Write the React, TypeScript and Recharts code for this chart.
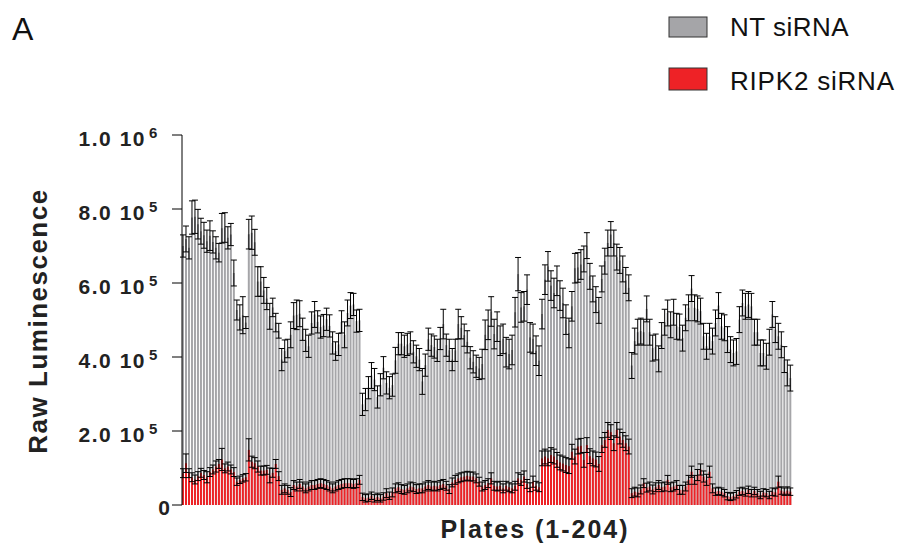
import React from 'react';
import { Bar, BarChart, ErrorBar, XAxis, YAxis } from 'recharts';

// values are in units of 10^5 raw luminescence, plates 1-204
const ntMean = [
  7.00, 7.19, 6.95, 7.77, 7.79, 7.59, 7.40, 7.29, 7.13, 7.28, 7.11, 6.95, 6.82, 7.48, 7.50, 7.22, 7.31, 6.27,
  5.27, 5.07, 5.13, 4.93,
  7.32, 7.36, 7.10, 6.04, 6.04, 5.80, 5.58, 5.10, 5.34, 4.93, 4.71,
  3.93, 4.16, 4.23, 4.60, 5.12, 5.14, 5.17, 4.75, 4.45, 4.29, 4.92, 5.15, 4.95, 4.81, 4.85, 5.02, 4.84, 4.38,
  4.16, 4.34, 4.95, 4.60, 5.19, 5.39, 5.42, 4.97, 4.99,
  2.72, 2.85, 3.17, 3.50, 3.39, 2.92, 3.25, 3.71, 3.30, 3.17, 3.24, 3.91, 4.36, 4.36, 4.29, 4.34, 4.38, 4.14,
  4.02, 3.93, 3.34, 3.78, 4.48, 4.32, 4.27, 4.18, 4.50, 4.89, 4.32, 4.18, 3.93, 4.18, 4.89, 4.79, 4.59, 4.41,
  3.98, 3.87, 3.75, 3.69,
  3.81, 4.60, 4.87, 5.23, 4.62, 4.82, 4.44, 4.49, 4.13, 4.08, 4.19, 5.21, 6.24, 5.34, 5.37, 5.82, 4.53, 4.49,
  4.17, 3.90, 5.16, 6.09, 6.45, 5.93, 5.73, 6.06, 5.66, 5.46, 5.01, 4.65, 5.37, 6.40, 6.42, 6.50,
  6.65, 7.01, 6.18, 5.84, 5.55, 5.26, 6.11, 6.59, 7.08, 7.31, 7.08, 6.70, 6.61, 6.38, 6.07, 5.87,
  3.77, 4.43, 4.67, 4.70, 4.67, 5.30, 4.67, 4.24, 4.27, 3.95, 4.58, 4.94, 5.19, 4.87, 5.21, 4.83, 4.81,
  4.51, 5.06, 5.33, 5.85, 5.33, 5.30, 5.24, 4.56, 4.29, 4.56, 4.43, 4.92, 5.39, 4.83, 4.79, 4.47, 4.20, 4.11,
  4.15, 5.01, 5.46, 5.37, 5.42, 5.37, 4.67, 4.67, 4.11, 4.11, 4.02, 4.40, 5.15, 4.74, 4.56, 4.33, 3.93, 3.57,
  3.43,
];

const ntErr = [
  0.30, 0.35, 0.30, 0.45, 0.45, 0.40, 0.35, 0.35, 0.30, 0.40, 0.30, 0.30, 0.25, 0.40, 0.40, 0.30, 0.30, 0.35,
  0.27, 0.34, 0.50, 0.16,
  0.40, 0.45, 0.35, 0.40, 0.40, 0.35, 0.30, 0.35, 0.25, 0.25, 0.20,
  0.30, 0.30, 0.25, 0.35, 0.35, 0.40, 0.35, 0.30, 0.30, 0.30, 0.30, 0.35, 0.30, 0.30, 0.30, 0.30, 0.30, 0.30,
  0.25, 0.30, 0.30, 0.35, 0.35, 0.35, 0.30, 0.30, 0.30,
  0.30, 0.30, 0.30, 0.35, 0.30, 0.30, 0.30, 0.30, 0.30, 0.30, 0.30, 0.35, 0.30, 0.30, 0.30, 0.30, 0.30, 0.30,
  0.30, 0.30, 0.35, 0.30, 0.30, 0.30, 0.30, 0.30, 0.30, 0.40, 0.30, 0.30, 0.30, 0.30, 0.40, 0.30, 0.30, 0.30,
  0.30, 0.30, 0.30, 0.30,
  0.40, 0.40, 0.40, 0.40, 0.40, 0.40, 0.40, 0.40, 0.40, 0.40, 0.40, 0.40, 0.45, 0.40, 0.40, 0.40, 0.40, 0.40,
  0.40, 0.40, 0.40, 0.40, 0.40, 0.40, 0.40, 0.40, 0.40, 0.40, 0.40, 0.40, 0.40, 0.40, 0.40, 0.40,
  0.35, 0.35, 0.35, 0.35, 0.35, 0.35, 0.35, 0.35, 0.35, 0.35, 0.35, 0.35, 0.35, 0.35, 0.35, 0.35,
  0.35, 0.35, 0.35, 0.35, 0.35, 0.35, 0.35, 0.35, 0.35, 0.35, 0.35, 0.35, 0.35, 0.35, 0.35, 0.35, 0.35,
  0.35, 0.35, 0.35, 0.35, 0.35, 0.35, 0.35, 0.35, 0.35, 0.35, 0.35, 0.35, 0.35, 0.35, 0.35, 0.35, 0.35, 0.35,
  0.35, 0.35, 0.35, 0.35, 0.35, 0.35, 0.35, 0.35, 0.35, 0.35, 0.35, 0.35, 0.35, 0.35, 0.35, 0.35, 0.35, 0.35,
  0.35,
];

const ripkMean = [
  0.86, 1.13, 0.86, 0.75, 0.69, 0.78, 0.87, 0.81, 0.75, 0.89, 0.96, 1.04, 1.11, 1.23, 0.99, 1.04, 0.96, 0.89,
  0.63, 0.68, 0.72, 0.75,
  1.49, 1.17, 1.13, 1.04, 0.93, 0.93, 0.95, 0.80, 0.87, 1.11, 0.78,
  0.41, 0.45, 0.41, 0.35, 0.54, 0.50, 0.57, 0.50, 0.45, 0.50, 0.54, 0.54, 0.57, 0.59, 0.57, 0.54, 0.50, 0.45,
  0.50, 0.54, 0.57, 0.59, 0.59, 0.59, 0.57, 0.59, 0.68,
  0.22, 0.18, 0.20, 0.25, 0.18, 0.22, 0.18, 0.23, 0.32, 0.25, 0.34, 0.45, 0.48, 0.43, 0.41, 0.45, 0.50, 0.48,
  0.43, 0.45, 0.45, 0.50, 0.54, 0.50, 0.52, 0.50, 0.54, 0.57, 0.52, 0.43, 0.61, 0.68, 0.72, 0.75, 0.77, 0.79,
  0.77, 0.77, 0.72, 0.63,
  0.50, 0.54, 0.59, 0.72, 0.52, 0.50, 0.52, 0.45, 0.52, 0.48, 0.45, 0.52, 0.72, 0.68, 0.77, 0.57, 0.48, 0.63,
  0.52, 0.48, 1.26, 1.31, 1.26, 1.35, 1.31, 1.22, 1.15, 1.12, 1.08, 1.05, 1.44, 1.31, 1.58, 1.60,
  1.22, 1.62, 1.32, 1.26, 1.23, 1.11, 1.62, 1.76, 2.03, 1.97, 1.67, 2.03, 1.85, 1.76, 1.67, 1.58,
  0.32, 0.36, 0.34, 0.42, 0.59, 0.47, 0.50, 0.42, 0.48, 0.54, 0.48, 0.50, 0.68, 0.48, 0.50, 0.54, 0.41,
  0.41, 0.50, 0.68, 0.90, 0.68, 0.81, 0.96, 0.77, 0.68, 0.90, 0.45, 0.36, 0.38, 0.36, 0.32, 0.24, 0.22, 0.24,
  0.29, 0.36, 0.38, 0.34, 0.41, 0.32, 0.38, 0.32, 0.27, 0.34, 0.32, 0.27, 0.36, 0.34, 0.63, 0.39, 0.36, 0.39,
  0.36,
];

const ripkErr = [
  0.12, 0.25, 0.12, 0.12, 0.12, 0.12, 0.12, 0.12, 0.15, 0.12, 0.12, 0.15, 0.12, 0.30, 0.12, 0.12, 0.12, 0.12,
  0.10, 0.10, 0.10, 0.10,
  0.30, 0.15, 0.15, 0.15, 0.12, 0.12, 0.12, 0.20, 0.12, 0.12, 0.12,
  0.12, 0.12, 0.12, 0.12, 0.12, 0.12, 0.12, 0.12, 0.12, 0.12, 0.12, 0.12, 0.12, 0.12, 0.12, 0.12, 0.12, 0.12,
  0.12, 0.12, 0.12, 0.12, 0.12, 0.12, 0.12, 0.12, 0.12,
  0.10, 0.10, 0.10, 0.10, 0.10, 0.10, 0.10, 0.10, 0.12, 0.10, 0.12, 0.12, 0.12, 0.12, 0.12, 0.12, 0.12, 0.12,
  0.12, 0.12, 0.12, 0.12, 0.12, 0.12, 0.12, 0.12, 0.12, 0.12, 0.12, 0.12, 0.12, 0.12, 0.12, 0.12, 0.12, 0.12,
  0.12, 0.12, 0.12, 0.12,
  0.12, 0.12, 0.12, 0.15, 0.12, 0.12, 0.12, 0.12, 0.12, 0.12, 0.12, 0.12, 0.15, 0.15, 0.15, 0.12, 0.12, 0.15,
  0.12, 0.12, 0.20, 0.20, 0.20, 0.20, 0.20, 0.20, 0.20, 0.20, 0.20, 0.20, 0.20, 0.20, 0.20, 0.20,
  0.20, 0.20, 0.20, 0.20, 0.20, 0.20, 0.20, 0.20, 0.20, 0.20, 0.20, 0.20, 0.20, 0.20, 0.20, 0.20,
  0.12, 0.12, 0.12, 0.12, 0.12, 0.12, 0.12, 0.12, 0.12, 0.12, 0.12, 0.12, 0.12, 0.12, 0.12, 0.12, 0.12,
  0.12, 0.12, 0.12, 0.15, 0.12, 0.15, 0.15, 0.15, 0.15, 0.15, 0.12, 0.10, 0.10, 0.10, 0.10, 0.10, 0.10, 0.10,
  0.10, 0.10, 0.10, 0.10, 0.10, 0.10, 0.10, 0.10, 0.10, 0.10, 0.10, 0.10, 0.10, 0.10, 0.15, 0.10, 0.10, 0.10,
  0.10,
];

// x axis has room for 240 plate slots, only 204 are used
const slotCount = 240;

const yTicks = [0, 200000, 400000, 600000, 800000, 1000000];
const yTickMantissa = ['0', '2.0', '4.0', '6.0', '8.0', '1.0'];
const yTickExponent = ['', '5', '5', '5', '5', '6'];

const font = '"Liberation Sans", Arial, sans-serif';
const grey = '#a5a5a8';
const red = '#ee2226';

const data = Array.from({ length: slotCount }, (_, i) => ({
  plate: i + 1,
  nt: i < ntMean.length ? ntMean[i] * 1e5 : null,
  ntErr: i < ntErr.length ? ntErr[i] * 1e5 : undefined,
  ripk: i < ripkMean.length ? ripkMean[i] * 1e5 : null,
  ripkErr: i < ripkErr.length ? ripkErr[i] * 1e5 : undefined,
}));

const YTick = (props: any) => {
  const { x, y, payload } = props;
  const idx = yTicks.indexOf(payload.value);
  if (idx === 0) {
    return (
      <text x={x} y={y + 10} textAnchor="end" fontFamily={font} fontWeight="bold" fontSize={21} fill="#222">
        0
      </text>
    );
  }
  return (
    <g>
      <text x={x - 24} y={y + 11} textAnchor="end" fontFamily={font} fontWeight="bold" fontSize={21}
        letterSpacing={1.5} fill="#222">
        {yTickMantissa[idx] + ' 10'}
      </text>
      <text x={x - 21} y={y + 3} textAnchor="start" fontFamily={font} fontWeight="bold" fontSize={15} fill="#222">
        {yTickExponent[idx]}
      </text>
    </g>
  );
};

const App = () => {
  return (
    <div style={{ position: 'absolute', left: 0, top: 0, width: 904, height: 552, background: '#fff' }}>
      <BarChart
        width={904}
        height={552}
        data={data}
        margin={{ top: 135, right: 4, bottom: 47, left: 82 }}
        barGap={-2}
      >
        <XAxis dataKey="plate" tick={false} tickLine={false} height={0}
          axisLine={{ stroke: '#858585', strokeWidth: 2 }} />
        <YAxis
          width={100}
          domain={[0, 1000000]}
          ticks={yTicks}
          interval={0}
          tickSize={10}
          tickMargin={2}
          tickLine={{ stroke: '#000' }}
          axisLine={{ stroke: '#000' }}
          tick={<YTick />}
        />
        <Bar dataKey="nt" fill={grey} barSize={2} isAnimationActive={false}>
          <ErrorBar dataKey="ntErr" width={3} strokeWidth={1} stroke="#000" direction="y" />
        </Bar>
        <Bar dataKey="ripk" fill={red} barSize={2} isAnimationActive={false}>
          <ErrorBar dataKey="ripkErr" width={3} strokeWidth={1} stroke="#000" direction="y" />
        </Bar>
      </BarChart>
      <svg width={904} height={552} style={{ position: 'absolute', left: 0, top: 0, pointerEvents: 'none' }}>
        <text x={12} y={40} fontFamily={font} fontSize={32} fill="#111">A</text>
        <rect x={669} y={17} width={38} height={20} fill={grey} stroke="#333" strokeWidth={1} />
        <text x={730} y={36} fontFamily={font} fontSize={26} letterSpacing={0.5} fill="#111">NT siRNA</text>
        <rect x={669} y={68} width={38} height={22} fill={red} stroke="#333" strokeWidth={1} />
        <text x={730} y={90} fontFamily={font} fontSize={26} letterSpacing={0.8} fill="#111">RIPK2 siRNA</text>
        <text x={535} y={538} textAnchor="middle" fontFamily={font} fontWeight="bold" fontSize={25}
          letterSpacing={2} fill="#222">Plates (1-204)</text>
        <text transform="translate(47, 321) rotate(-90)" textAnchor="middle" fontFamily={font} fontWeight="bold"
          fontSize={26} letterSpacing={1.5} fill="#222">Raw Luminescence</text>
      </svg>
    </div>
  );
};

export default App;
